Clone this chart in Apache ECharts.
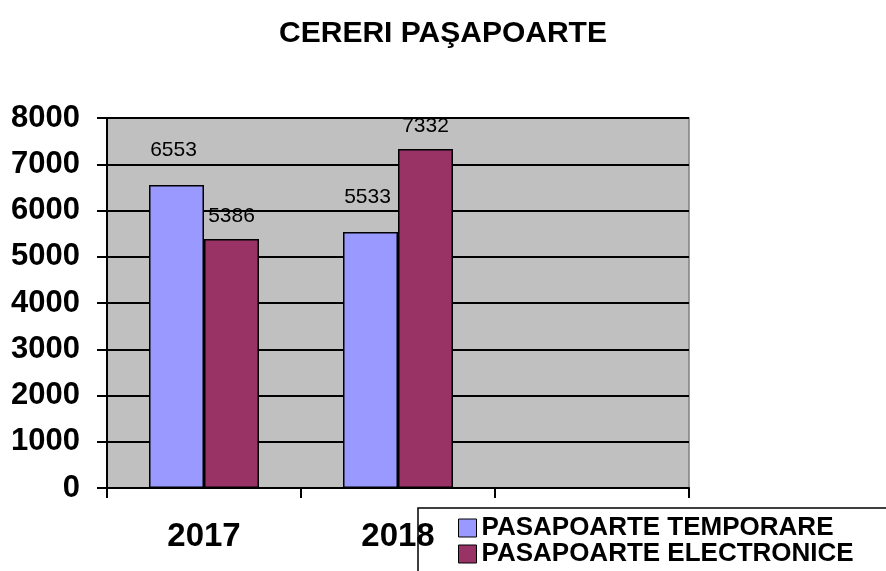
<!DOCTYPE html>
<html lang="ro">
<head>
    <meta charset="UTF-8">
    <title>CERERI PAŞAPOARTE</title>
    <script src="https://cdn.jsdelivr.net/npm/echarts@6/dist/echarts.min.js"></script>
</head>
<body style="margin:0;background:#fff;">
<div id="main" style="width: 886px;height: 571px;"></div>
<script>
    // date
    var ani = ['2017', '2018', ''];
    var temporare = [6553, 5533, null];
    var electronice = [5386, 7332, null];
    var yTicks = [0, 1000, 2000, 3000, 4000, 5000, 6000, 7000, 8000];

    var font = '"Liberation Sans", Arial, sans-serif';
    var myChart = echarts.init(document.getElementById('main'));
    var option = {
        animation: false,
        title: {
            text: 'CERERI PAŞAPOARTE',
            left: 'center',
            top: 14,
            textStyle: { fontFamily: font, fontSize: 30, fontWeight: 'bold', color: '#000' }
        },
        graphic: [{
            type: 'rect',
            z: -1,
            shape: { x: 418, y: 508, width: 500, height: 80 },
            style: { fill: '#fff', stroke: '#000', lineWidth: 1.5 }
        }],
        legend: {
            orient: 'vertical',
            left: 458,
            top: 515,
            width: 428,
            height: 60,
            padding: 0,
            itemWidth: 18,
            itemHeight: 18,
            itemGap: 0,
            icon: 'rect',
            itemStyle: { borderColor: '#000', borderWidth: 1 },
            textStyle: { fontFamily: font, fontSize: 26, lineHeight: 25, fontWeight: 'bold', color: '#000' }
        },
        grid: {
            left: 107,
            right: 197,
            top: 118,
            bottom: 83,
            show: true,
            backgroundColor: '#C0C0C0',
            borderColor: '#808080',
            borderWidth: 1.5
        },
        xAxis: {
            type: 'category',
            data: ani,
            axisLine: { lineStyle: { color: '#000', width: 2 } },
            axisTick: { show: true, length: 10, lineStyle: { color: '#000', width: 2 } },
            axisLabel: { fontFamily: font, fontSize: 33, fontWeight: 'bold', color: '#000', margin: 32 },
            z: 5
        },
        yAxis: {
            type: 'value',
            min: yTicks[0],
            max: yTicks[yTicks.length - 1],
            interval: 1000,
            axisLine: { show: true, lineStyle: { color: '#000', width: 2 } },
            axisTick: { show: true, length: 10, lineStyle: { color: '#000', width: 2 } },
            axisLabel: {
                fontFamily: font, fontSize: 31, fontWeight: 'bold', color: '#000', margin: 27,
                formatter: function (v) { return String(v); }
            },
            splitLine: { lineStyle: { color: '#000', width: 2 } }
        },
        series: [
            {
                name: 'PASAPOARTE TEMPORARE',
                type: 'bar',
                data: temporare,
                barWidth: 55,
                barGap: '0%',
                itemStyle: { color: '#9999FF', borderColor: '#000', borderWidth: 1.5 },
                label: {
                    show: true, position: 'top', distance: 24, offset: [-3, 0],
                    fontFamily: font, fontSize: 21, color: '#000'
                }
            },
            {
                name: 'PASAPOARTE ELECTRONICE',
                type: 'bar',
                data: electronice,
                barWidth: 55,
                itemStyle: { color: '#993366', borderColor: '#000', borderWidth: 1.5 },
                label: {
                    show: true, position: 'top', distance: 12,
                    fontFamily: font, fontSize: 21, color: '#000'
                }
            }
        ]
    };
    myChart.setOption(option);
</script>
</body>
</html>
